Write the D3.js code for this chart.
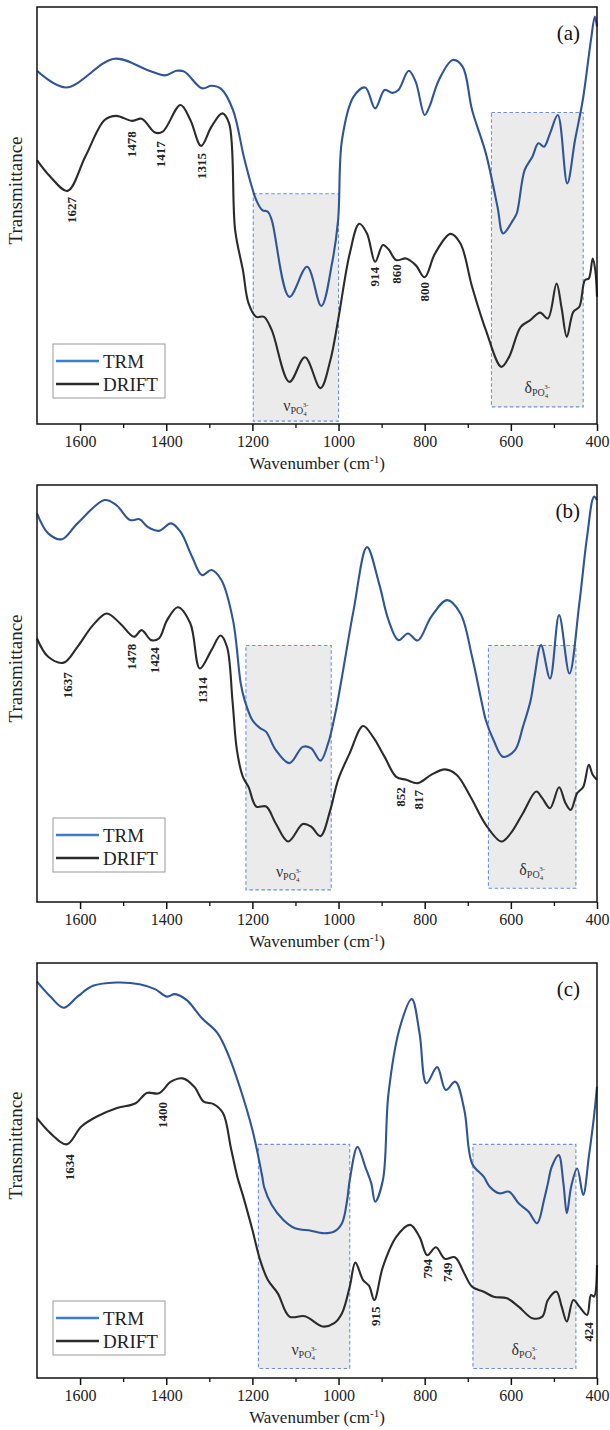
<!DOCTYPE html>
<html><head><meta charset="utf-8">
<script src="https://cdn.jsdelivr.net/npm/d3@7"></script>
<style>body{margin:0;background:#fff}</style>
</head><body>
<svg id="chart" width="610" height="1430"></svg>
<script>
// ---------- DATA ----------
const wavenumberTicks = [1600, 1400, 1200, 1000, 800, 600, 400];
const minorTicks = [1700, 1500, 1300, 1100, 900, 700, 500];
const seriesNames = ["TRM", "DRIFT"];
const panelLabels = ["(a)", "(b)", "(c)"];

// [wavenumber, transmittance (arb. units)]
const trmA = [[1700,84.7],[1633,80.7],[1520,87.6],[1444,84.9],[1403,83.6],[1376,84.7],[1358,84.5],[1317,80.5],[1295,81.1],[1272,80.3],[1245,75.3],[1218,63.3],[1191,53.7],[1177,51.3],[1164,50.9],[1155,48.9],[1114,30.5],[1073,37.7],[1040,28.3],[1015,38.6],[1001,48.9],[992,68.1],[965,78.5],[938,80.7],[915,75.7],[893,80.1],[875,79.4],[861,80.1],[837,84.7],[821,82.1],[800,74.1],[789,76.1],[767,82.5],[735,87.3],[712,85.7],[690,75.3],[658,64.9],[631,52.1],[618,45.7],[595,48.9],[586,50.6],[568,60.9],[550,64.1],[536,67.3],[523,66.5],[509,69.7],[491,74.1],[469,57.7],[451,68.1],[433,77.7],[414,92.1],[405,97.7],[400,95.3]];
const driftA = [[1700,63.3],[1669,59.3],[1629,55.9],[1588,64.1],[1543,72.9],[1516,73.9],[1480,72.7],[1457,73.2],[1426,69.9],[1408,70.1],[1367,76.5],[1344,72.9],[1319,66.7],[1295,71.3],[1270,74.5],[1254,72.1],[1240,46.5],[1222,36.9],[1209,29.0],[1191,25.7],[1173,25.7],[1155,22.5],[1114,10.1],[1078,16.0],[1042,8.6],[1019,15.3],[1001,24.9],[974,40.9],[952,48.0],[934,45.7],[915,38.9],[897,42.9],[884,41.9],[866,39.3],[843,39.7],[821,38.1],[800,35.2],[776,40.9],[740,45.6],[717,43.3],[690,32.9],[658,22.5],[622,13.7],[604,16.1],[577,23.3],[555,24.9],[532,26.7],[514,25.3],[494,33.7],[482,27.7],[470,20.9],[455,26.9],[441,28.1],[428,34.5],[419,34.9],[410,39.7],[404,36.9],[400,30.5]];
const trmB = [[1700,93.2],[1674,88.4],[1642,87.0],[1606,90.8],[1543,96.4],[1516,95.2],[1484,91.6],[1462,91.8],[1444,90.0],[1417,89.0],[1389,90.8],[1367,88.8],[1340,82.8],[1317,78.4],[1295,79.6],[1272,77.2],[1245,67.6],[1227,52.4],[1218,48.4],[1200,43.6],[1182,41.7],[1168,40.8],[1146,36.5],[1114,33.3],[1083,37.2],[1064,36.9],[1042,33.9],[1024,38.1],[1006,46.0],[992,54.0],[965,70.0],[934,85.1],[906,76.4],[884,67.6],[861,62.8],[839,64.4],[816,62.7],[785,68.4],[748,72.4],[717,69.2],[690,58.8],[667,47.6],[658,43.6],[640,38.8],[618,34.8],[590,36.5],[572,42.0],[554,48.4],[545,54.0],[530,61.6],[509,53.6],[488,68.8],[464,54.8],[441,71.6],[423,87.6],[407,97.2],[400,96.4]];
const driftB = [[1700,63.2],[1674,58.8],[1638,57.4],[1606,61.2],[1570,66.4],[1538,69.2],[1507,66.8],[1475,63.6],[1457,65.2],[1435,62.8],[1417,63.2],[1398,67.6],[1373,70.7],[1344,66.8],[1322,56.0],[1295,60.4],[1274,63.9],[1259,61.2],[1246,48.0],[1236,36.5],[1222,30.0],[1209,27.6],[1191,22.9],[1168,22.9],[1146,18.9],[1117,14.5],[1083,18.7],[1064,18.1],[1042,15.8],[1019,22.1],[1001,29.3],[974,35.7],[943,42.2],[920,39.6],[893,34.8],[866,30.0],[843,29.3],[816,28.5],[785,30.5],[753,31.8],[726,30.5],[694,25.3],[658,18.5],[622,14.5],[600,16.5],[572,21.3],[541,26.5],[527,24.9],[509,22.5],[488,27.5],[473,23.7],[461,22.1],[446,26.1],[432,27.6],[419,32.9],[410,30.5],[400,29.3]];
const trmC = [[1700,95.5],[1669,91.9],[1638,89.2],[1606,91.9],[1570,94.5],[1516,95.3],[1462,94.9],[1426,93.7],[1398,91.9],[1380,92.5],[1353,91.1],[1317,86.7],[1281,83.1],[1254,77.4],[1227,69.4],[1200,59.8],[1177,48.5],[1173,46.1],[1155,41.7],[1128,38.1],[1101,36.1],[1064,35.5],[1037,34.9],[1010,35.3],[992,37.3],[980,42.9],[974,47.7],[956,55.7],[938,50.9],[924,46.9],[915,42.5],[897,47.7],[884,68.6],[857,84.7],[830,91.3],[812,83.1],[796,71.0],[771,74.9],[751,69.4],[729,71.4],[708,64.6],[690,51.7],[663,48.5],[649,46.1],[627,44.5],[604,44.9],[582,42.1],[559,40.1],[539,37.3],[523,42.9],[514,46.9],[505,50.9],[489,53.7],[478,46.9],[470,39.7],[460,46.1],[446,50.5],[432,44.1],[419,53.3],[407,63.0],[400,70.2]];
const driftC = [[1700,62.6],[1669,59.0],[1631,56.3],[1597,60.6],[1561,63.0],[1516,65.0],[1471,66.2],[1445,68.7],[1417,68.6],[1389,71.4],[1362,72.2],[1335,70.2],[1313,66.6],[1290,66.0],[1268,63.8],[1250,55.5],[1235,48.5],[1222,44.0],[1200,35.7],[1182,28.4],[1164,23.6],[1141,20.4],[1114,14.8],[1078,14.9],[1037,12.4],[1010,13.2],[992,15.6],[974,22.0],[961,27.8],[943,23.6],[929,22.2],[917,18.8],[897,26.8],[866,34.0],[834,36.9],[812,34.0],[794,29.6],[774,31.5],[753,28.7],[730,29.1],[708,25.2],[690,22.0],[663,20.8],[640,19.6],[609,19.2],[582,17.2],[550,14.4],[527,14.8],[514,18.8],[494,20.8],[482,17.2],[470,13.6],[455,18.8],[441,17.2],[423,15.2],[414,20.0],[407,19.6],[400,27.2]];

// peak labels: [text, wavenumber, transmittance at label centre]
const peaksA = [["1627",1620,51.3],["1478",1480,67.1],["1417",1414,64.7],["1315",1317,61.9],["914",917,35.3],["860",866,36.0],["800",800,31.7]];
const peaksB = [["1637",1629,52.0],["1478",1480,58.8],["1424",1427,58.0],["1314",1315,50.8],["852",857,25.2],["817",814,24.5]];
const peaksC = [["1634",1624,50.8],["1400",1408,63.4],["915",915,14.9],["794",794,26.3],["749",748,25.5],["424",419,11.1]];

// shaded PO4 bands: [symbol, from, to, top, bottom, label level]
const bandsA = [["ν",1198,1000,55.2,0.7,3.0],["δ",645,432,74.7,4.1,7.4]];
const bandsB = [["ν",1215,1017,61.5,2.9,6.1],["δ",652,449,61.5,3.3,6.5]];
const bandsC = [["ν",1186,974,56.3,2.3,5.5],["δ",688,449,56.3,2.3,5.5]];

// ---------- DRAW ----------
const svg = d3.select("#chart");
const plotLeft = 37, plotRight = 597;
const panels = [
  {label: panelLabels[0], top: 7,   bottom: 424,  trm: trmA, drift: driftA, peaks: peaksA, bands: bandsA, legTop: 344},
  {label: panelLabels[1], top: 485, bottom: 902,  trm: trmB, drift: driftB, peaks: peaksB, bands: bandsB, legTop: 818},
  {label: panelLabels[2], top: 963, bottom: 1378, trm: trmC, drift: driftC, peaks: peaksC, bands: bandsC, legTop: 1301}
];
const blue = "#2f5597", black = "#2b2b2b";
const serif = "'Liberation Serif','Times New Roman',serif";

const x = d3.scaleLinear().domain([1700, 400]).range([plotLeft, plotRight]);

panels.forEach(p => {
  const y = d3.scaleLinear().domain([0, 100]).range([p.bottom, p.top]);
  const g = svg.append("g");

  // bands
  p.bands.forEach(b => {
    g.append("rect")
      .attr("x", x(b[1])).attr("y", y(b[3]))
      .attr("width", x(b[2]) - x(b[1])).attr("height", y(b[4]) - y(b[3]))
      .attr("fill", "#ebebeb").attr("stroke", "#6f8fd8")
      .attr("stroke-width", 1.1).attr("stroke-dasharray", "3.5,2.5");
    const t = g.append("text")
      .attr("x", x((b[1] + b[2]) / 2)).attr("y", y(b[5]))
      .attr("text-anchor", "middle").attr("font-family", serif)
      .attr("font-size", 16).attr("fill", "#333");
    t.append("tspan").text(b[0]);
    t.append("tspan").attr("font-size", 10).attr("dy", 3).text("PO");
    t.append("tspan").attr("font-size", 7).attr("dy", 2).text("4");
    t.append("tspan").attr("font-size", 7).attr("dy", -9).attr("dx", -4).text("3-");
  });

  const line = d3.line().x(d => x(d[0])).y(d => y(d[1])).curve(d3.curveCatmullRom.alpha(0.5));
  g.append("path").datum(p.trm).attr("d", line).attr("fill", "none")
    .attr("stroke", blue).attr("stroke-width", 2.1).attr("stroke-linejoin", "round");
  g.append("path").datum(p.drift).attr("d", line).attr("fill", "none")
    .attr("stroke", black).attr("stroke-width", 2.1).attr("stroke-linejoin", "round");

  // peak labels
  p.peaks.forEach(pk => {
    g.append("text")
      .attr("transform", `translate(${x(pk[1])},${y(pk[2])}) rotate(-90)`)
      .attr("text-anchor", "middle").attr("dominant-baseline", "central")
      .attr("font-family", serif).attr("font-weight", "bold").attr("font-size", 13)
      .attr("fill", "#222").text(pk[0]);
  });

  // frame
  g.append("rect").attr("x", plotLeft).attr("y", p.top)
    .attr("width", plotRight - plotLeft).attr("height", p.bottom - p.top)
    .attr("fill", "none").attr("stroke", "#111").attr("stroke-width", 1.5);

  // x axis
  const ax = g.append("g").attr("transform", `translate(0,${p.bottom})`)
    .call(d3.axisBottom(x).tickValues(wavenumberTicks).tickSize(7).tickPadding(5).tickFormat(d3.format("d")));
  ax.select(".domain").remove();
  ax.selectAll(".tick line").attr("stroke", "#111").attr("stroke-width", 1.5);
  ax.selectAll(".tick text").attr("font-family", serif).attr("font-size", 16).attr("fill", "#222");
  const axm = g.append("g").attr("transform", `translate(0,${p.bottom})`)
    .call(d3.axisBottom(x).tickValues(minorTicks.filter(v => v > 400 && v < 1700)).tickSize(4).tickFormat(""));
  axm.select(".domain").remove();
  axm.selectAll(".tick line").attr("stroke", "#111").attr("stroke-width", 1.3);

  // axis title
  const xt = g.append("text").attr("x", (plotLeft + plotRight) / 2).attr("y", p.bottom + 45)
    .attr("text-anchor", "middle").attr("font-family", serif).attr("font-size", 17).attr("fill", "#222");
  xt.append("tspan").text("Wavenumber (cm");
  xt.append("tspan").attr("font-size", 11).attr("dy", -6).text("-1");
  xt.append("tspan").attr("dy", 6).text(")");

  g.append("text")
    .attr("transform", `translate(15,${(p.top + p.bottom) / 2 - 25}) rotate(-90)`)
    .attr("text-anchor", "middle").attr("dominant-baseline", "central")
    .attr("font-family", serif).attr("font-size", 19).attr("fill", "#222").text("Transmittance");

  // panel label
  g.append("text").attr("x", 580).attr("y", p.top + 33)
    .attr("text-anchor", "end").attr("font-family", serif).attr("font-size", 21)
    .attr("fill", "#111").text(p.label);

  // legend
  const lg = g.append("g").attr("transform", `translate(53,${p.legTop})`);
  lg.append("rect").attr("width", 112).attr("height", 54)
    .attr("fill", "#fff").attr("stroke", "#999").attr("stroke-width", 1);
  [[seriesNames[0], "#3d7cc9", 17], [seriesNames[1], black, 40]].forEach(s => {
    lg.append("line").attr("x1", 3).attr("x2", 46).attr("y1", s[2]).attr("y2", s[2])
      .attr("stroke", s[1]).attr("stroke-width", 2.5);
    lg.append("text").attr("x", 50).attr("y", s[2] + 7)
      .attr("font-family", serif).attr("font-size", 19).attr("fill", "#222").text(s[0]);
  });
});
</script>
</body></html>
